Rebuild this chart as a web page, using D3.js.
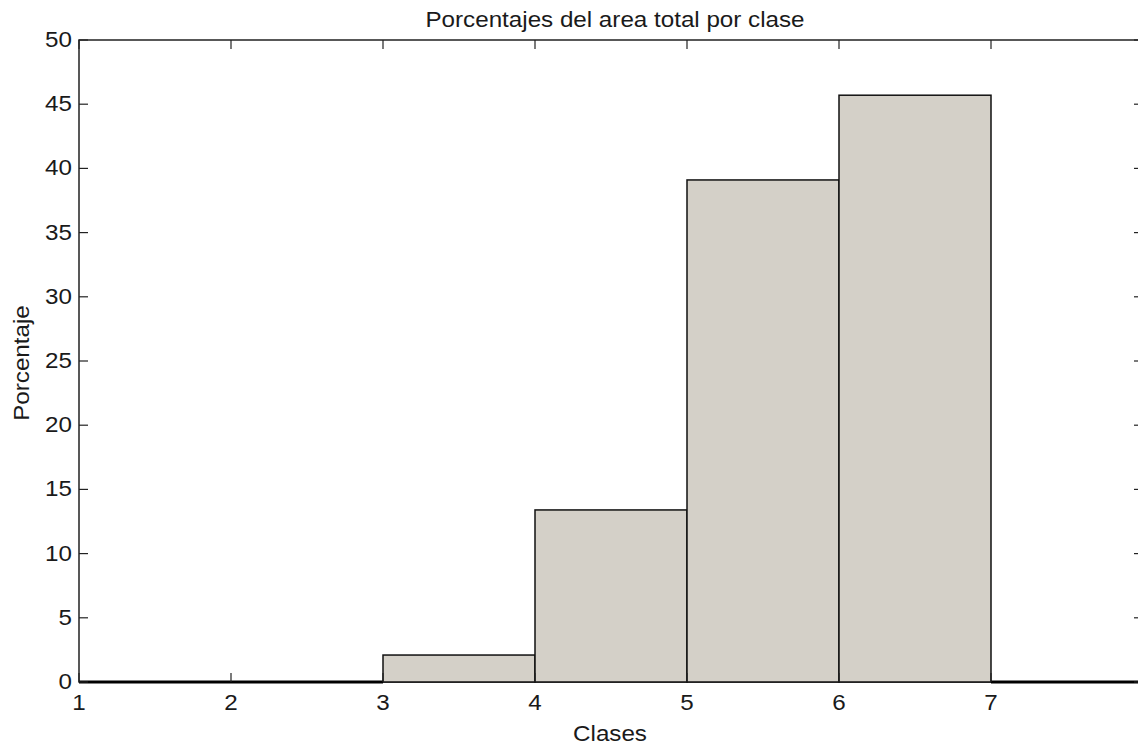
<!DOCTYPE html>
<html>
<head>
<meta charset="utf-8">
<script src="https://cdn.jsdelivr.net/npm/d3@7"></script>
<style>
  html, body { margin: 0; padding: 0; background: #fff; }
  svg { display: block; font-family: "Liberation Sans", Arial, sans-serif; }
</style>
</head>
<body>
<svg id="chart" width="1138" height="746"></svg>
<script>
// Histogram bins (class edges) and share of total area per class, in percent
const binStarts = [1, 2, 3, 4, 5, 6, 7];
const binEnds   = [2, 3, 4, 5, 6, 7, 8];
const percents  = [0, 0, 2.1, 13.4, 39.1, 45.7, 0];
const xTicks = [1, 2, 3, 4, 5, 6, 7];
const yTicks = [0, 5, 10, 15, 20, 25, 30, 35, 40, 45, 50];

const svg = d3.select("#chart");
const plotLeft = 79, plotRight = 1143, plotTop = 40, plotBottom = 682;

const x = d3.scaleLinear().domain([1, 8]).range([plotLeft, plotRight]);
const y = d3.scaleLinear().domain([0, 50]).range([plotBottom, plotTop]);

const axisColor = "#222";
const textColor = "#1a1a1a";
const fontSize = 22;
const stretch = 1.1;   // slightly wide lettering
const tickLen = 9;

function label(g, px, py, txt, anchor, rotate) {
  return g.append("text")
    .attr("transform", `translate(${px},${py})` + (rotate ? ` rotate(${rotate})` : "") + ` scale(${stretch},1)`)
    .attr("text-anchor", anchor)
    .attr("font-size", fontSize)
    .attr("fill", textColor)
    .text(txt);
}

// frame
svg.append("rect")
  .attr("x", plotLeft).attr("y", plotTop)
  .attr("width", plotRight - plotLeft).attr("height", plotBottom - plotTop)
  .attr("fill", "#fff").attr("stroke", axisColor).attr("stroke-width", 1.5);

// bars
const bins = binStarts.map((s, i) => ({ s, e: binEnds[i], v: percents[i] }));
svg.append("g").selectAll("rect").data(bins).join("rect")
  .attr("x", d => x(d.s))
  .attr("y", d => y(d.v))
  .attr("width", d => x(d.e) - x(d.s))
  .attr("height", d => y(0) - y(d.v))
  .attr("fill", "#d4d0c8")
  .attr("stroke", "#111")
  .attr("stroke-width", 1.5);

// zero-height bins show as a heavy baseline
svg.append("g").selectAll("line").data(bins.filter(d => d.v === 0)).join("line")
  .attr("x1", d => x(d.s)).attr("x2", d => x(d.e))
  .attr("y1", y(0)).attr("y2", y(0))
  .attr("stroke", "#000").attr("stroke-width", 3);

// y ticks (inward, both sides) and labels
const gy = svg.append("g");
yTicks.forEach(t => {
  gy.append("line").attr("x1", plotLeft).attr("x2", plotLeft + tickLen)
    .attr("y1", y(t)).attr("y2", y(t)).attr("stroke", axisColor).attr("stroke-width", 1.2);
  gy.append("line").attr("x1", plotRight - tickLen).attr("x2", plotRight)
    .attr("y1", y(t)).attr("y2", y(t)).attr("stroke", axisColor).attr("stroke-width", 1.2);
  label(gy, plotLeft - 7, y(t) + 7, t, "end");
});

// x ticks (inward, top and bottom) and labels
const gx = svg.append("g");
xTicks.forEach(t => {
  gx.append("line").attr("x1", x(t)).attr("x2", x(t))
    .attr("y1", plotBottom).attr("y2", plotBottom - tickLen).attr("stroke", axisColor).attr("stroke-width", 1.2);
  gx.append("line").attr("x1", x(t)).attr("x2", x(t))
    .attr("y1", plotTop).attr("y2", plotTop + tickLen).attr("stroke", axisColor).attr("stroke-width", 1.2);
  label(gx, x(t), plotBottom + 28, t, "middle");
});

// titles
const gt = svg.append("g");
label(gt, 615, 27, "Porcentajes del area total por clase", "middle");
label(gt, 610, 741, "Clases", "middle");
label(gt, 29, 363, "Porcentaje", "middle", -90);
</script>
</body>
</html>
